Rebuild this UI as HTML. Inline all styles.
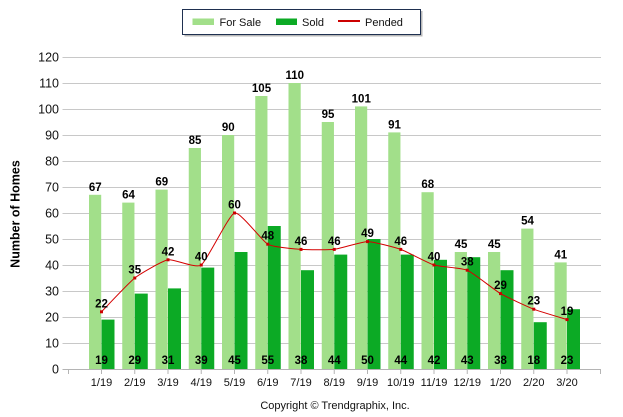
<!DOCTYPE html>
<html><head><meta charset="utf-8"><style>
html,body{margin:0;padding:0;background:#fff;}
svg{display:block;}
text{font-family:"Liberation Sans",Arial,sans-serif;}
.yl{font-size:12.5px;fill:#111;text-anchor:end;}
.xl{font-size:11px;fill:#111;text-anchor:middle;}
.dl{font-size:11.5px;font-weight:bold;fill:#000;text-anchor:middle;}
.lg{font-size:11px;fill:#111;}
</style></head><body>
<svg width="623" height="417" viewBox="0 0 623 417" xmlns="http://www.w3.org/2000/svg">
<rect width="623" height="417" fill="#fff"/>
<!-- legend -->
<rect x="184.5" y="11" width="238" height="25.5" fill="#9a9a9a" opacity="0.7"/>
<rect x="182.5" y="9.5" width="238" height="25" fill="#fff" stroke="#1f3050" stroke-width="1"/>
<rect x="192.5" y="18.5" width="21.5" height="6.5" fill="#a2df8a"/>
<text class="lg" x="219.5" y="26">For Sale</text>
<rect x="276" y="18.5" width="21" height="6.5" fill="#0caa25"/>
<text class="lg" x="302" y="26">Sold</text>
<rect x="338" y="20" width="22" height="2" fill="#cc0000"/>
<text class="lg" x="365" y="26">Pended</text>
<!-- gridlines -->
<g stroke="#c8c8c8" stroke-width="1">
<line x1="62.5" y1="57.5" x2="601" y2="57.5"/>
<line x1="62.5" y1="83.5" x2="601" y2="83.5"/>
<line x1="62.5" y1="109.5" x2="601" y2="109.5"/>
<line x1="62.5" y1="135.5" x2="601" y2="135.5"/>
<line x1="62.5" y1="161.5" x2="601" y2="161.5"/>
<line x1="62.5" y1="187.5" x2="601" y2="187.5"/>
<line x1="62.5" y1="213.5" x2="601" y2="213.5"/>
<line x1="62.5" y1="239.5" x2="601" y2="239.5"/>
<line x1="62.5" y1="265.5" x2="601" y2="265.5"/>
<line x1="62.5" y1="291.5" x2="601" y2="291.5"/>
<line x1="62.5" y1="317.5" x2="601" y2="317.5"/>
<line x1="62.5" y1="343.5" x2="601" y2="343.5"/>
</g>
<!-- y labels -->
<text class="yl" x="59" y="61.5">120</text>
<text class="yl" x="59" y="87.5">110</text>
<text class="yl" x="59" y="113.5">100</text>
<text class="yl" x="59" y="139.5">90</text>
<text class="yl" x="59" y="165.5">80</text>
<text class="yl" x="59" y="191.5">70</text>
<text class="yl" x="59" y="217.5">60</text>
<text class="yl" x="59" y="243.5">50</text>
<text class="yl" x="59" y="269.5">40</text>
<text class="yl" x="59" y="295.5">30</text>
<text class="yl" x="59" y="321.5">20</text>
<text class="yl" x="59" y="347.5">10</text>
<text class="yl" x="59" y="373.5">0</text>
<text x="19.5" y="214" transform="rotate(-90 19.5 214)" text-anchor="middle" style="font-size:12.5px;font-weight:bold;fill:#000;">Number of Homes</text>
<!-- bars: for sale -->
<g fill="#a2df8a">
<rect x="89" y="194.8" width="12.2" height="174.2"/>
<rect x="122.25" y="202.6" width="12.2" height="166.4"/>
<rect x="155.5" y="189.6" width="12.2" height="179.4"/>
<rect x="188.75" y="148" width="12.2" height="221"/>
<rect x="222" y="135" width="12.2" height="234"/>
<rect x="255.25" y="96" width="12.2" height="273"/>
<rect x="288.5" y="83" width="12.2" height="286"/>
<rect x="321.75" y="122" width="12.2" height="247"/>
<rect x="355" y="106.4" width="12.2" height="262.6"/>
<rect x="388.25" y="132.4" width="12.2" height="236.6"/>
<rect x="421.5" y="192.2" width="12.2" height="176.8"/>
<rect x="454.75" y="252" width="12.2" height="117"/>
<rect x="488" y="252" width="12.2" height="117"/>
<rect x="521.25" y="228.6" width="12.2" height="140.4"/>
<rect x="554.5" y="262.4" width="12.2" height="106.6"/>
</g>
<!-- bars: sold -->
<g fill="#0caa25">
<rect x="101.5" y="319.6" width="13" height="49.4"/>
<rect x="134.75" y="293.6" width="13" height="75.4"/>
<rect x="168" y="288.4" width="13" height="80.6"/>
<rect x="201.25" y="267.6" width="13" height="101.4"/>
<rect x="234.5" y="252" width="13" height="117"/>
<rect x="267.75" y="226" width="13" height="143"/>
<rect x="301" y="270.2" width="13" height="98.8"/>
<rect x="334.25" y="254.6" width="13" height="114.4"/>
<rect x="367.5" y="239" width="13" height="130"/>
<rect x="400.75" y="254.6" width="13" height="114.4"/>
<rect x="434" y="259.8" width="13" height="109.2"/>
<rect x="467.25" y="257.2" width="13" height="111.8"/>
<rect x="500.5" y="270.2" width="13" height="98.8"/>
<rect x="533.75" y="322.2" width="13" height="46.8"/>
<rect x="567" y="309.2" width="13" height="59.8"/>
</g>
<!-- x axis -->
<line x1="62.5" y1="369.5" x2="601" y2="369.5" stroke="#b4b4b4" stroke-width="1"/>
<g stroke="#b4b4b4" stroke-width="1">
<line x1="68.5" y1="369" x2="68.5" y2="374"/>
<line x1="101.5" y1="369" x2="101.5" y2="374"/>
<line x1="134.75" y1="369" x2="134.75" y2="374"/>
<line x1="168" y1="369" x2="168" y2="374"/>
<line x1="201.25" y1="369" x2="201.25" y2="374"/>
<line x1="234.5" y1="369" x2="234.5" y2="374"/>
<line x1="267.75" y1="369" x2="267.75" y2="374"/>
<line x1="301" y1="369" x2="301" y2="374"/>
<line x1="334.25" y1="369" x2="334.25" y2="374"/>
<line x1="367.5" y1="369" x2="367.5" y2="374"/>
<line x1="400.75" y1="369" x2="400.75" y2="374"/>
<line x1="434" y1="369" x2="434" y2="374"/>
<line x1="467.25" y1="369" x2="467.25" y2="374"/>
<line x1="500.5" y1="369" x2="500.5" y2="374"/>
<line x1="533.75" y1="369" x2="533.75" y2="374"/>
<line x1="567" y1="369" x2="567" y2="374"/>
<line x1="600.5" y1="369" x2="600.5" y2="374"/>
</g>
<!-- x labels -->
<text class="xl" x="101.5" y="386">1/19</text>
<text class="xl" x="134.75" y="386">2/19</text>
<text class="xl" x="168" y="386">3/19</text>
<text class="xl" x="201.25" y="386">4/19</text>
<text class="xl" x="234.5" y="386">5/19</text>
<text class="xl" x="267.75" y="386">6/19</text>
<text class="xl" x="301" y="386">7/19</text>
<text class="xl" x="334.25" y="386">8/19</text>
<text class="xl" x="367.5" y="386">9/19</text>
<text class="xl" x="400.75" y="386">10/19</text>
<text class="xl" x="434" y="386">11/19</text>
<text class="xl" x="467.25" y="386">12/19</text>
<text class="xl" x="500.5" y="386">1/20</text>
<text class="xl" x="533.75" y="386">2/20</text>
<text class="xl" x="567" y="386">3/20</text>
<!-- pended line -->
<path d="M101.5,311.8 C104.27,308.98 129.21,282.33 134.75,278 C140.29,273.67 162.46,260.88 168,259.8 C173.54,258.72 195.71,268.9 201.25,265 C206.79,261.1 228.96,214.73 234.5,213 C240.04,211.27 262.21,241.17 267.75,244.2 C273.29,247.23 295.46,248.97 301,249.4 C306.54,249.83 328.71,250.05 334.25,249.4 C339.79,248.75 361.96,241.6 367.5,241.6 C373.04,241.6 395.21,247.45 400.75,249.4 C406.29,251.35 428.46,263.27 434,265 C439.54,266.73 461.71,267.82 467.25,270.2 C472.79,272.58 494.96,290.35 500.5,293.6 C506.04,296.85 528.21,307.03 533.75,309.2 C539.29,311.37 564.23,318.73 567,319.6" fill="none" stroke="#d40000" stroke-width="1"/>
<g fill="#cc0000">
<rect x="100" y="310.3" width="3" height="3"/>
<rect x="133.25" y="276.5" width="3" height="3"/>
<rect x="166.5" y="258.3" width="3" height="3"/>
<rect x="199.75" y="263.5" width="3" height="3"/>
<rect x="233" y="211.5" width="3" height="3"/>
<rect x="266.25" y="242.7" width="3" height="3"/>
<rect x="299.5" y="247.9" width="3" height="3"/>
<rect x="332.75" y="247.9" width="3" height="3"/>
<rect x="366" y="240.1" width="3" height="3"/>
<rect x="399.25" y="247.9" width="3" height="3"/>
<rect x="432.5" y="263.5" width="3" height="3"/>
<rect x="465.75" y="268.7" width="3" height="3"/>
<rect x="499" y="292.1" width="3" height="3"/>
<rect x="532.25" y="307.7" width="3" height="3"/>
<rect x="565.5" y="318.1" width="3" height="3"/>
</g>
<!-- for sale labels -->
<text class="dl" x="95.25" y="190.8">67</text>
<text class="dl" x="128.5" y="198.6">64</text>
<text class="dl" x="161.75" y="185.6">69</text>
<text class="dl" x="195" y="144">85</text>
<text class="dl" x="228.25" y="131">90</text>
<text class="dl" x="261.5" y="92">105</text>
<text class="dl" x="294.75" y="79">110</text>
<text class="dl" x="328" y="118">95</text>
<text class="dl" x="361.25" y="102.4">101</text>
<text class="dl" x="394.5" y="128.4">91</text>
<text class="dl" x="427.75" y="188.2">68</text>
<text class="dl" x="461" y="248">45</text>
<text class="dl" x="494.25" y="248">45</text>
<text class="dl" x="527.5" y="224.6">54</text>
<text class="dl" x="560.75" y="258.4">41</text>
<!-- pended labels -->
<text class="dl" x="101.5" y="307.3">22</text>
<text class="dl" x="134.75" y="273.5">35</text>
<text class="dl" x="168" y="255.3">42</text>
<text class="dl" x="201.25" y="260.5">40</text>
<text class="dl" x="234.5" y="208.5">60</text>
<text class="dl" x="267.75" y="239.7">48</text>
<text class="dl" x="301" y="244.9">46</text>
<text class="dl" x="334.25" y="244.9">46</text>
<text class="dl" x="367.5" y="237.1">49</text>
<text class="dl" x="400.75" y="244.9">46</text>
<text class="dl" x="434" y="260.5">40</text>
<text class="dl" x="467.25" y="265.7">38</text>
<text class="dl" x="500.5" y="289.1">29</text>
<text class="dl" x="533.75" y="304.7">23</text>
<text class="dl" x="567" y="315.1">19</text>
<!-- sold labels -->
<text class="dl" x="101.5" y="364">19</text>
<text class="dl" x="134.75" y="364">29</text>
<text class="dl" x="168" y="364">31</text>
<text class="dl" x="201.25" y="364">39</text>
<text class="dl" x="234.5" y="364">45</text>
<text class="dl" x="267.75" y="364">55</text>
<text class="dl" x="301" y="364">38</text>
<text class="dl" x="334.25" y="364">44</text>
<text class="dl" x="367.5" y="364">50</text>
<text class="dl" x="400.75" y="364">44</text>
<text class="dl" x="434" y="364">42</text>
<text class="dl" x="467.25" y="364">43</text>
<text class="dl" x="500.5" y="364">38</text>
<text class="dl" x="533.75" y="364">18</text>
<text class="dl" x="567" y="364">23</text>
<!-- copyright -->
<text x="335" y="409" text-anchor="middle" style="font-size:11px;fill:#111;">Copyright © Trendgraphix, Inc.</text>
</svg>
</body></html>
